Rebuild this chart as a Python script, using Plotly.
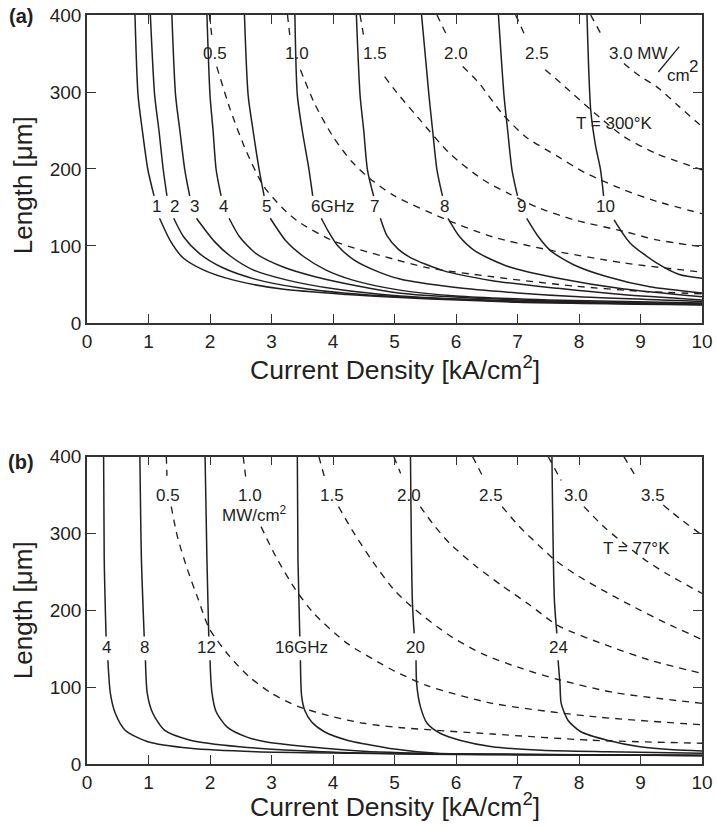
import plotly.graph_objects as go

# ---------------- axes ----------------
X_TICKS = list(range(0, 11))
Y_TICKS = [0, 100, 200, 300, 400]

# ---------------- panel (a): T = 300 K ----------------
# frequency contours (solid); None = gap where the label sits
a_1GHz = [(0.78, 400), (0.83, 296), (0.90, 250), (0.99, 199), (1.09, 165), None,
          (1.18, 136), (1.36, 106), (1.57, 84), (1.89, 69), (2.37, 56), (3.17, 44), (4.23, 37), (5.09, 33), (7.0, 27), (10, 23.5)]
a_2GHz = [(1.03, 400), (1.10, 296), (1.17, 250), (1.24, 199), (1.30, 165), None,
          (1.41, 136), (1.57, 112), (1.83, 90), (2.2, 72), (2.73, 57), (3.42, 46), (4.22, 38.5), (5.07, 34), (7.0, 28), (10, 24)]
a_3GHz = [(1.38, 400), (1.44, 296), (1.51, 250), (1.59, 199), (1.67, 165), None,
          (1.78, 136), (2.07, 106), (2.33, 87), (2.7, 69), (3.24, 56), (4.04, 44), (5.09, 35), (7.0, 28.5), (10, 24.5)]
a_4GHz = [(1.95, 400), (2.0, 296), (2.05, 250), (2.10, 199), (2.18, 165), None,
          (2.31, 136), (2.48, 112), (2.75, 90), (3.18, 73), (3.71, 60), (4.4, 48), (5.06, 39), (7.0, 30), (10, 25)]
a_5GHz = [(2.56, 400), (2.62, 296), (2.70, 250), (2.80, 199), (2.88, 165), None,
          (2.98, 136), (3.24, 106), (3.51, 87), (3.88, 69), (4.31, 56), (5.06, 43), (6.0, 35), (7.5, 30), (10, 26)]
a_6GHz = [(3.38, 400), (3.42, 296), (3.50, 250), (3.61, 199), (3.67, 165), None,
          (3.81, 136), (3.91, 121), (4.07, 101), (4.34, 82), (4.66, 69), (5.09, 57), (6.0, 46), (7.0, 39), (8.0, 34), (10, 28)]
a_7GHz = [(4.38, 400), (4.44, 296), (4.50, 250), (4.56, 199), (4.66, 165), None,
          (4.77, 136), (4.88, 113), (5.06, 96), (5.26, 85), (5.79, 68), (6.59, 55), (7.66, 45), (8.7, 37), (10, 30)]
a_8GHz = [(5.44, 400), (5.56, 296), (5.62, 250), (5.69, 199), (5.78, 165), None,
          (5.87, 136), (6.06, 112), (6.32, 93), (6.86, 73), (7.66, 58), (8.73, 44), (10, 34)]
a_9GHz = [(6.69, 400), (6.78, 296), (6.84, 250), (6.91, 199), (7.0, 165), None,
          (7.15, 136), (7.34, 112), (7.55, 93), (7.93, 75), (8.46, 60), (9.15, 47), (10, 39)]
a_10GHz = [(8.13, 400), (8.19, 277), (8.27, 230), (8.35, 199), (8.40, 165), None,
           (8.57, 134), (8.83, 104), (9.26, 78), (9.63, 63), (10, 58)]

# power-density contours (dashed), MW/cm2
a_P05 = [(1.99, 400), (2.03, 372), None,
         (2.11, 333), (2.33, 277), (2.59, 223), (2.87, 178), (3.17, 150), (3.43, 132), (4.02, 106), (5.03, 82), (5.52, 72),
         (6.59, 60), (7.92, 48), (9.05, 41), (10, 38)]
a_P10 = [(3.26, 400), (3.30, 372), None,
         (3.47, 329), (3.7, 285), (4.0, 242), (4.3, 210), (4.56, 190), (4.98, 166), (5.85, 134), (6.59, 112), (7.5, 95),
         (8.73, 78), (10, 66)]
a_P15 = [(4.44, 400), (4.50, 372), None,
         (4.84, 320), (5.0, 303), (5.37, 268), (5.9, 220), (6.44, 186), (6.86, 168), (7.33, 150), (7.92, 134), (8.73, 119),
         (9.26, 108), (10, 99)]
a_P20 = [(5.69, 400), (5.86, 372), None,
         (6.11, 333), (6.38, 311), (6.75, 272), (7.13, 242), (7.66, 216), (8.1, 195), (8.73, 173), (9.26, 158), (10, 142)]
a_P25 = [(6.97, 400), (7.13, 372), None,
         (7.45, 329), (7.77, 307), (8.19, 277), (8.73, 242), (9.26, 220), (10, 199)]
a_P30 = [(8.19, 400), (8.38, 372), None,
         (8.73, 337), (9.0, 320), (9.26, 307), (9.63, 281), (10, 255)]

a_freq_text = ["1", "2", "3", "4", "5", "6GHz", "7", "8", "9", "10"]
a_freq_text_x = [1.13, 1.43, 1.75, 2.22, 2.92, 3.99, 4.68, 5.82, 7.07, 8.43]
a_power_text = ["0.5", "1.0", "1.5", "2.0", "2.5"]
a_power_text_x = [2.08, 3.42, 4.68, 6.0, 7.31]

# ---------------- panel (b): T = 77 K ----------------
b_4GHz = [(0.27, 400), (0.28, 266), (0.31, 166), None,
          (0.34, 135), (0.38, 92), (0.46, 66), (0.62, 44), (0.99, 29), (1.68, 20.5), (2.75, 16), (4.35, 14), (6.5, 12), (10, 11)]
b_8GHz = [(0.86, 400), (0.885, 266), (0.93, 166), None,
          (0.95, 135), (0.98, 92), (1.07, 66), (1.26, 44), (1.68, 31), (2.48, 22.5), (3.82, 16), (5.5, 13), (10, 11)]
b_12GHz = [(1.92, 400), (1.95, 266), (1.98, 166), None,
           (2.0, 135), (2.03, 94), (2.1, 68), (2.28, 48), (2.6, 35), (2.9, 29), (3.6, 22.5), (4.5, 16.5), (6.0, 13), (10, 11)]
b_16GHz = [(3.42, 400), (3.43, 266), (3.46, 166), None,
           (3.47, 135), (3.49, 88), (3.54, 70), (3.65, 55), (3.86, 42), (4.23, 31), (4.77, 22.5), (5.0, 19.5), (5.68, 14),
           (7.0, 12.5), (10, 11)]
b_20GHz = [(5.26, 400), (5.29, 213), (5.32, 170), None,
           (5.35, 135), (5.36, 105), (5.42, 75), (5.53, 53), (5.74, 40), (6.06, 31), (6.59, 22.5), (7.39, 18), (8.46, 16), (10, 14)]
b_24GHz = [(7.56, 400), (7.60, 213), (7.64, 170), None,
           (7.66, 135), (7.69, 105), (7.71, 79), (7.82, 57), (8.03, 42), (8.46, 31), (8.99, 22.5), (9.53, 18.5), (10, 17)]

b_P05 = [(1.29, 400), (1.30, 375), None,
         (1.37, 335), (1.47, 296), (1.63, 254), (1.81, 214), (1.99, 176), (2.32, 140), (2.63, 114), (3.0, 92), (3.43, 75),
         (3.97, 62), (4.5, 53), (5.0, 48), (6.59, 39), (8.19, 31), (10, 27)]
b_P10 = [(2.54, 400), (2.58, 374), None,
         (2.83, 309), (3.07, 270), (3.39, 227), (3.70, 195), (4.23, 157), (4.77, 131), (5.0, 121), (5.53, 102), (6.59, 79),
         (8.19, 62), (10, 51)]
b_P15 = [(3.77, 400), (3.86, 374), None,
         (4.09, 335), (4.33, 302), (4.65, 263), (5.0, 226), (5.32, 202), (5.9, 167), (6.44, 143), (7.08, 124), (7.66, 110),
         (8.57, 93), (10, 79)]
b_P20 = [(4.99, 400), (5.1, 378), None,
         (5.42, 335), (5.63, 312), (5.9, 287), (6.33, 257), (6.75, 232), (7.2, 207), (7.66, 180), (8.5, 153), (9.2, 134), (10, 118)]
b_P25 = [(6.27, 400), (6.45, 372), None,
         (6.75, 335), (7.02, 310), (7.34, 285), (7.6, 266), (7.98, 245), (8.46, 223), (8.83, 207), (9.4, 184), (10, 162)]
b_P30 = [(7.5, 400), (7.71, 369), None,
         (8.08, 335), (8.4, 309), (8.73, 287), (9.05, 267), (9.42, 248), (10, 222)]
b_P35 = [(8.73, 400), (8.94, 372), None,
         (9.37, 337), (9.63, 320), (10, 298)]

b_freq_text = ["4", "8", "12", "16GHz", "20", "24"]
b_freq_text_x = [0.31, 0.94, 1.95, 3.49, 5.34, 7.66]
b_power_text = ["0.5", "1.0", "1.5", "2.0", "2.5", "3.0", "3.5"]
b_power_text_x = [1.32, 2.65, 3.99, 5.24, 6.57, 7.95, 9.2]

FREQ_LABEL_Y = 151
POWER_LABEL_Y = 350

# ---------------- styling ----------------
INK = "#231f20"
FONT = "Liberation Sans, Arial, Helvetica, sans-serif"
SOLID_W = 1.5
DASH_W = 1.35
DASH = "7px,6px"

fig = go.Figure()


def unpack(pts):
    xs = [p[0] if p is not None else None for p in pts]
    ys = [p[1] if p is not None else None for p in pts]
    return xs, ys


def add_curve(pts, dashed, xa, ya):
    xs, ys = unpack(pts)
    fig.add_trace(go.Scatter(
        x=xs, y=ys, mode="lines", xaxis=xa, yaxis=ya, connectgaps=False,
        line=dict(color=INK, width=DASH_W if dashed else SOLID_W,
                  dash=DASH if dashed else "solid", shape="spline", smoothing=0.7),
        showlegend=False, hoverinfo="skip"))


for c in [a_1GHz, a_2GHz, a_3GHz, a_4GHz, a_5GHz, a_6GHz, a_7GHz, a_8GHz, a_9GHz, a_10GHz]:
    add_curve(c, False, "x", "y")
for c in [a_P05, a_P10, a_P15, a_P20, a_P25, a_P30]:
    add_curve(c, True, "x", "y")
for c in [b_4GHz, b_8GHz, b_12GHz, b_16GHz, b_20GHz, b_24GHz]:
    add_curve(c, False, "x2", "y2")
for c in [b_P05, b_P10, b_P15, b_P20, b_P25, b_P30, b_P35]:
    add_curve(c, True, "x2", "y2")

ann = []


def label(text, x, y, xref, yref, size=17, **kw):
    d = dict(text=text, x=x, y=y, xref=xref, yref=yref, showarrow=False,
             font=dict(family=FONT, size=size, color=INK), xanchor="center", yanchor="middle")
    d.update(kw)
    ann.append(d)


for t, x in zip(a_freq_text, a_freq_text_x):
    label(t, x, FREQ_LABEL_Y, "x", "y")
for t, x in zip(a_power_text, a_power_text_x):
    label(t, x, POWER_LABEL_Y, "x", "y")
label("3.0 MW", 8.46, POWER_LABEL_Y, "x", "y", xanchor="left")
label("cm", 9.62, 322, "x", "y")
label("2", 9.86, 333, "x", "y")
label("T = 300°K", 8.58, 259, "x", "y")

for t, x in zip(b_freq_text, b_freq_text_x):
    label(t, x, FREQ_LABEL_Y, "x2", "y2")
for t, x in zip(b_power_text, b_power_text_x):
    label(t, x, POWER_LABEL_Y, "x2", "y2")
label("MW/cm<sup>2</sup>", 2.72, 326, "x2", "y2")
label("T = 77°K", 8.93, 281, "x2", "y2")

# panel letters and axis titles
label("<b>(a)</b>", -0.107, 0.9987, "paper", "paper", size=20)
label("<b>(b)</b>", -0.107, 0.403, "paper", "paper", size=20)
for yp in [0.5287, -0.0547]:
    label("Current Density [kA/cm<sup>2</sup>]", 0.5, yp, "paper", "paper", size=26.5)
for yp in [0.773, 0.2056]:
    label("Length [μm]", -0.1038, yp, "paper", "paper", size=26, textangle=-90)

shapes = [dict(type="line", xref="x", yref="y", x0=9.29, y0=326, x1=9.63, y1=359,
               line=dict(color=INK, width=1.3))]

axis_common = dict(
    range=[0, 10], tickvals=X_TICKS, ticks="inside", ticklen=9, tickwidth=1.3, tickcolor="#333",
    showline=True, linecolor="#333", linewidth=1.5, mirror="ticks", showgrid=False, zeroline=False,
    ticklabeloverflow="allow",
    tickfont=dict(family=FONT, size=19, color=INK))
yaxis_common = dict(axis_common)
yaxis_common.update(range=[0, 400], tickvals=Y_TICKS)

fig.update_layout(
    width=717, height=827,
    margin=dict(l=87, r=4, t=15, b=63),
    paper_bgcolor="white", plot_bgcolor="white",
    xaxis=dict(axis_common, domain=[0, 1], anchor="y"),
    yaxis=dict(yaxis_common, domain=[0.5888, 1.0], anchor="x"),
    xaxis2=dict(axis_common, domain=[0, 1], anchor="y2"),
    yaxis2=dict(yaxis_common, domain=[0.0, 0.4103], anchor="x2"),
    annotations=ann, shapes=shapes,
    showlegend=False,
)

fig.write_html("out.html", config={"displayModeBar": False},
               post_script="document.body.style.margin='0';document.body.style.overflow='hidden';")
